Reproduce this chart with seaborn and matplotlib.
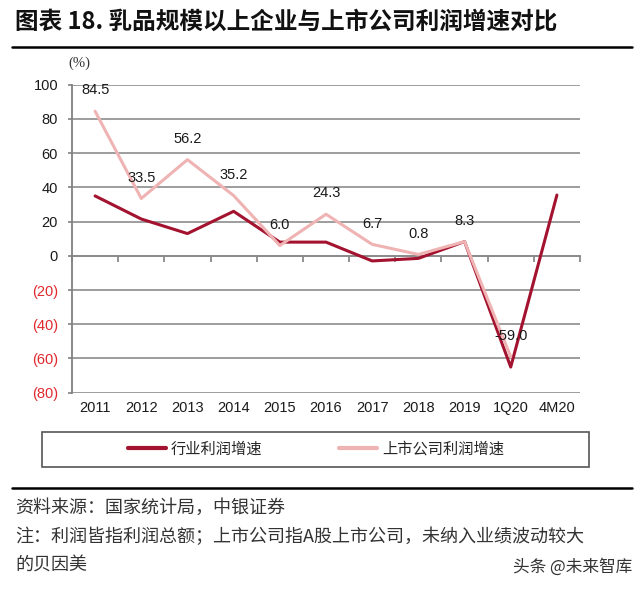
import matplotlib
matplotlib.use("Agg")
import matplotlib.pyplot as plt
import matplotlib.patches as mpatches
from matplotlib.lines import Line2D
import seaborn as sns
import pandas as pd

# data
categories = ['2011', '2012', '2013', '2014', '2015', '2016', '2017', '2018', '2019', '1Q20', '4M20']
industry = [35.0, 21.5, 13.0, 26.0, 8.0, 8.0, -3.0, -1.5, 8.3, -65.0, 35.5]
listed = [84.5, 33.5, 56.2, 35.2, 6.0, 24.3, 6.7, 0.8, 8.3, -59.0, None]
series_names = ['行业利润增速', '上市公司利润增速']
colors = ['#A3122F', '#EFB3B3']
y_ticks = [-80, -60, -40, -20, 0, 20, 40, 60, 80, 100]

rows = []
for i, cat in enumerate(categories):
    rows.append({'pos': i, 'series': series_names[0], 'value': industry[i]})
    if listed[i] is not None:
        rows.append({'pos': i, 'series': series_names[1], 'value': listed[i]})
df = pd.DataFrame(rows)

sns.set_theme(style='white')
plt.rcParams['font.family'] = ['Liberation Sans', 'Noto Sans CJK SC', 'DejaVu Sans']
cjk = ['Noto Sans CJK SC', 'DejaVu Sans']

fig = plt.figure(figsize=(6.4, 5.91), dpi=100)
ax = fig.add_axes([72 / 640, 1 - 392.7 / 591, 508 / 640, 308 / 591])

sns.lineplot(data=df, x='pos', y='value', hue='series', hue_order=series_names,
             palette=colors, sort=False, linewidth=2.2, ax=ax, zorder=3)

# labels on the listed-company line
for i, v in enumerate(listed):
    if v is None:
        continue
    ax.annotate(f'{v:.1f}', (i, v), xytext=(0, 15), textcoords='offset points',
                ha='center', va='center', fontsize=10.5, color='#1a1a1a', zorder=4)

ax.set_xlim(-0.5, len(categories) - 0.5)
ax.set_ylim(y_ticks[0], y_ticks[-1])
ax.set_yticks(y_ticks)
ax.set_yticklabels([str(t) if t >= 0 else f'({-t})' for t in y_ticks])
for lbl, t in zip(ax.get_yticklabels(), y_ticks):
    lbl.set_color('#E0282E' if t < 0 else '#1a1a1a')
ax.set_xticks(range(len(categories)))
ax.set_xticklabels(categories)
ax.tick_params(axis='x', length=0, pad=6, labelsize=10.5, labelcolor='#1a1a1a')
ax.tick_params(axis='y', length=3, width=1.2, color='#808080', pad=7, labelsize=10.5, left=True)
ax.yaxis.grid(True, color='#8c8c8c', linewidth=1.2)
ax.xaxis.grid(False)
for s in ['top', 'right', 'bottom']:
    ax.spines[s].set_visible(False)
ax.spines['left'].set_color('#808080')
ax.spines['left'].set_linewidth(1.3)
ax.set_xlabel('')
ax.set_ylabel('')

# zero axis with category-boundary ticks
zero_loc = (0 - y_ticks[0]) / (y_ticks[-1] - y_ticks[0])
sec = ax.secondary_xaxis(zero_loc)
sec.set_xticks([i - 0.5 for i in range(len(categories) + 1)])
sec.set_xticklabels([])
sec.tick_params(length=4, width=1.2, color='#808080', direction='out')
for s in sec.spines.values():
    s.set_color('#808080')
    s.set_linewidth(1.3)

fig.text(79 / 640, 1 - 63 / 591, '(%)', ha='center', va='center',
         fontsize=10.5, color='#333333', family=['Liberation Serif', 'DejaVu Serif'])

# legend in a wide framed box
sns.move_legend(ax, 'center', bbox_to_anchor=(316 / 640, 1 - 449 / 591),
                bbox_transform=fig.transFigure, ncol=2, frameon=False, title=None,
                handlelength=2.5, handletextpad=0.35, columnspacing=5.0,
                prop={'family': cjk, 'size': 11})
for line in ax.get_legend().get_lines():
    line.set_linewidth(3)
fig.add_artist(mpatches.Rectangle((42 / 640, 1 - 467 / 591), 547 / 640, 35 / 591,
                                  transform=fig.transFigure, fill=False,
                                  edgecolor='#555555', linewidth=1.2))

# title and footer
fig.text(15 / 640, 1 - 22 / 591, '图表 18. 乳品规模以上企业与上市公司利润增速对比',
         ha='left', va='center', fontsize=17, fontweight='bold', color='#111111', family=cjk)
fig.add_artist(Line2D([12 / 640, 632 / 640], [1 - 47 / 591] * 2,
                      transform=fig.transFigure, color='black', linewidth=1.8))
fig.add_artist(Line2D([12 / 640, 632 / 640], [1 - 488 / 591] * 2,
                      transform=fig.transFigure, color='black', linewidth=1.8))
fig.text(15 / 640, 1 - 508 / 591, '资料来源：国家统计局，中银证券',
         ha='left', va='center', fontsize=13, color='#333333', family=cjk)
fig.text(15 / 640, 1 - 537 / 591, '注：利润皆指利润总额；上市公司指A股上市公司，未纳入业绩波动较大',
         ha='left', va='center', fontsize=13, color='#333333', family=cjk)
fig.text(15 / 640, 1 - 566 / 591, '的贝因美',
         ha='left', va='center', fontsize=13, color='#333333', family=cjk)
fig.text(632 / 640, 1 - 567 / 591, '头条 @未来智库',
         ha='right', va='center', fontsize=12, color='#333333', family=cjk)

plt.savefig('out.png', dpi=100)
